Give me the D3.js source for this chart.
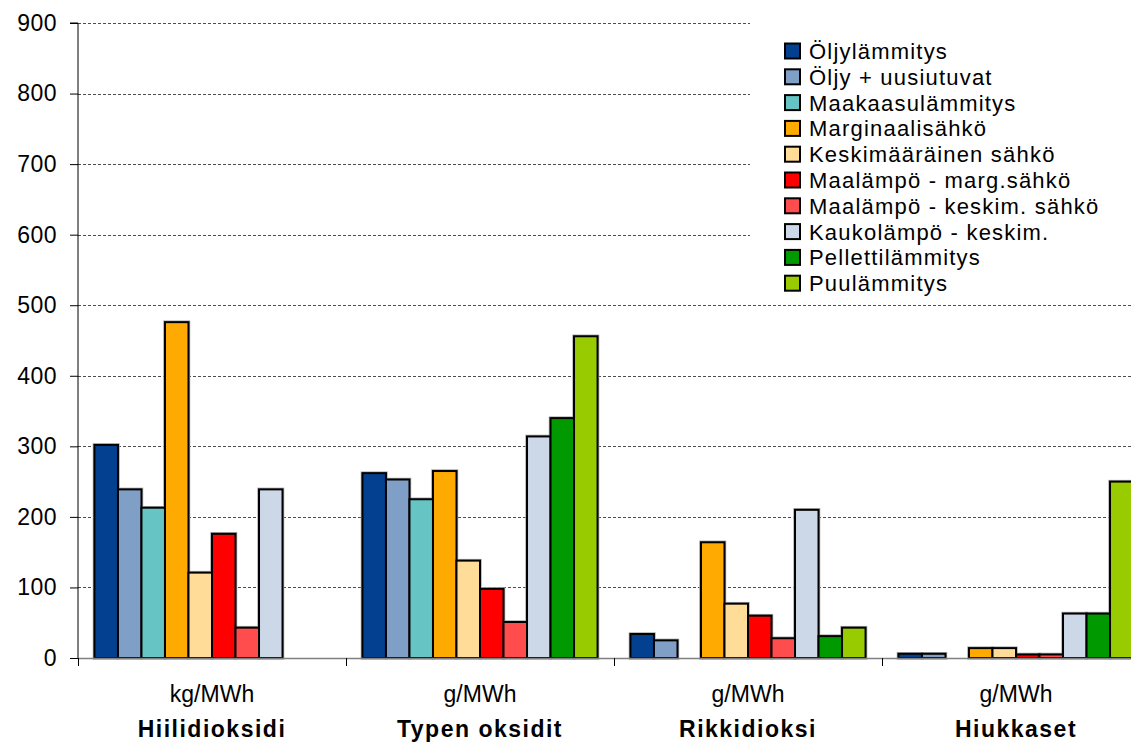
<!DOCTYPE html>
<html>
<head>
<meta charset="utf-8">
<script src="https://cdn.jsdelivr.net/npm/d3@7"></script>
<style>
  html, body { margin: 0; padding: 0; background: #fff; }
  svg { display: block; font-family: "Liberation Sans", Arial, sans-serif; }
</style>
</head>
<body>
<svg id="chart" width="1131" height="744"></svg>
<script>
// ---- data ----
const categories = ["Hiilidioksidi", "Typen oksidit", "Rikkidioksi", "Hiukkaset"];
const units = ["kg/MWh", "g/MWh", "g/MWh", "g/MWh"];
const seriesNames = [
  "Öljylämmitys", "Öljy + uusiutuvat", "Maakaasulämmitys", "Marginaalisähkö",
  "Keskimääräinen sähkö", "Maalämpö - marg.sähkö", "Maalämpö - keskim. sähkö",
  "Kaukolämpö - keskim.", "Pellettilämmitys", "Puulämmitys"
];
const seriesColors = ["#03408F", "#7F9FC6", "#66C4C4", "#FFAA00", "#FFDD99",
  "#FF0000", "#FF4D4D", "#CCD8E8", "#009900", "#99CC00"];
// values per series across categories (null = no bar)
const oljylammitys      = [302, 262, 34, 6];
const oljyUusiutuvat    = [239, 253, 25, 6];
const maakaasu          = [213, 225, null, null];
const marginaalisahko   = [476, 265, 164, 14];
const keskimaarainen    = [121, 138, 77, 14];
const maalampoMarg      = [176, 98, 60, 5];
const maalampoKeskim    = [43, 51, 28, 5];
const kaukolampo        = [239, 314, 210, 63];
const pelletti          = [null, 340, 31, 63];
const puu               = [null, 456, 43, 250];
const seriesValues = [oljylammitys, oljyUusiutuvat, maakaasu, marginaalisahko,
  keskimaarainen, maalampoMarg, maalampoKeskim, kaukolampo, pelletti, puu];
const yTicks = [0, 100, 200, 300, 400, 500, 600, 700, 800, 900];

// ---- layout ----
const svg = d3.select("#chart");
const mLeft = 78, mRight = 1150, mTop = 23, mBottom = 658;

const y = d3.scaleLinear().domain([0, 900]).range([mBottom, mTop]);
const x0 = d3.scaleBand().domain(categories).range([mLeft, mRight]).padding(0);
const x1 = d3.scaleBand().domain(seriesNames).range([0, x0.bandwidth()])
  .paddingInner(0).paddingOuter(0.7);

// gridlines
svg.append("g").selectAll("line").data(yTicks.filter(d => d > 0)).join("line")
  .attr("x1", mLeft).attr("x2", mRight)
  .attr("y1", d => Math.round(y(d)) + 0.5).attr("y2", d => Math.round(y(d)) + 0.5)
  .attr("stroke", "#4d4d4d").attr("stroke-width", 1).attr("stroke-dasharray", "3,2");

// bars
const barData = [];
seriesNames.forEach((s, si) => {
  categories.forEach((c, ci) => {
    const v = seriesValues[si][ci];
    if (v !== null) barData.push({ s, c, v, color: seriesColors[si] });
  });
});
const bars = svg.append("g");
// soft grey halo like the original rendering
bars.selectAll("rect.halo").data(barData).join("rect").attr("class", "halo")
  .attr("x", d => x0(d.c) + x1(d.s))
  .attr("y", d => y(d.v))
  .attr("width", x1.bandwidth())
  .attr("height", d => y(0) - y(d.v))
  .attr("fill", "none")
  .attr("stroke", "#aaa").attr("stroke-width", 3.5);
bars.selectAll("rect.bar").data(barData).join("rect").attr("class", "bar")
  .attr("x", d => x0(d.c) + x1(d.s))
  .attr("y", d => y(d.v))
  .attr("width", x1.bandwidth())
  .attr("height", d => y(0) - y(d.v))
  .attr("fill", d => d.color)
  .attr("stroke", "#000").attr("stroke-width", 2);

// legend background
const legX = 785, legY0 = 51, legStep = 25.8;
svg.append("rect").attr("x", 750).attr("y", 18).attr("width", 400).attr("height", 279)
  .attr("fill", "#fff");

// y axis
const yAxis = d3.axisLeft(y).tickValues(yTicks).tickSize(8).tickPadding(13);
const gy = svg.append("g").attr("transform", `translate(${mLeft},0)`).call(yAxis);
gy.select(".domain").attr("stroke", "#000").attr("d", `M-8,${mTop}H0V${mBottom}`);
gy.selectAll(".tick line").attr("stroke", "#000");
gy.selectAll(".tick text").attr("font-size", 23).attr("fill", "#000")
  .attr("font-family", "Liberation Sans, Arial, sans-serif")
  .style("letter-spacing", "0.5px");

// x axis baseline + group ticks
svg.append("line").attr("x1", mLeft).attr("x2", 1131).attr("y1", mBottom + 0.5).attr("y2", mBottom + 0.5)
  .attr("stroke", "#808080").attr("stroke-width", 1.5);
svg.append("g").selectAll("line").data(categories).join("line")
  .attr("x1", d => x0(d) + 0.5).attr("x2", d => x0(d) + 0.5)
  .attr("y1", mBottom).attr("y2", mBottom + 8)
  .attr("stroke", "#000").attr("stroke-width", 1);

// category labels
svg.append("g").selectAll("text").data(categories).join("text")
  .attr("x", d => x0(d) + x0.bandwidth() / 2)
  .attr("y", 702)
  .attr("text-anchor", "middle").attr("font-size", 23).attr("fill", "#000")
  .text((d, i) => units[i]);
svg.append("g").selectAll("text").data(categories).join("text")
  .attr("x", d => x0(d) + x0.bandwidth() / 2)
  .attr("y", 737)
  .attr("text-anchor", "middle").attr("font-size", 23).attr("font-weight", "bold")
  .attr("fill", "#000").style("letter-spacing", "1.5px")
  .text(d => d);

// legend
const leg = svg.append("g").selectAll("g").data(seriesNames).join("g")
  .attr("transform", (d, i) => `translate(${legX},${legY0 + i * legStep})`);
leg.append("rect").attr("x", 0).attr("y", -7.5).attr("width", 15).attr("height", 15)
  .attr("fill", (d, i) => seriesColors[i]).attr("stroke", "#000").attr("stroke-width", 2);
leg.append("text").attr("x", 24).attr("y", 8)
  .attr("font-size", 22).attr("fill", "#000").style("letter-spacing", "1.2px")
  .text(d => d);
</script>
</body>
</html>
